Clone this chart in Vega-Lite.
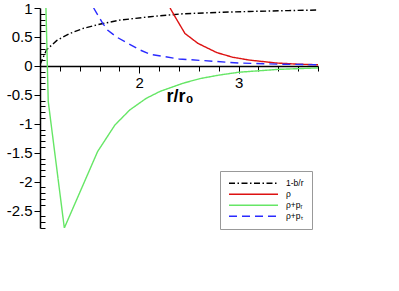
{
  "$schema": "https://vega.github.io/schema/vega-lite/v6.json",
  "width": 278,
  "height": 220,
  "autosize": "none",
  "padding": {"left": 40, "top": 8, "right": 81, "bottom": 63},
  "background": "white",
  "data": {"values": [
    {"series": "1-b/r", "r": 1.0, "v": 0.02},
    {"series": "1-b/r", "r": 1.02, "v": 0.1},
    {"series": "1-b/r", "r": 1.067, "v": 0.28},
    {"series": "1-b/r", "r": 1.17, "v": 0.44},
    {"series": "1-b/r", "r": 1.3, "v": 0.56},
    {"series": "1-b/r", "r": 1.44, "v": 0.65},
    {"series": "1-b/r", "r": 1.6, "v": 0.72},
    {"series": "1-b/r", "r": 1.8, "v": 0.79},
    {"series": "1-b/r", "r": 2.11, "v": 0.85},
    {"series": "1-b/r", "r": 2.44, "v": 0.9},
    {"series": "1-b/r", "r": 2.8, "v": 0.925},
    {"series": "1-b/r", "r": 3.11, "v": 0.94},
    {"series": "1-b/r", "r": 3.5, "v": 0.955},
    {"series": "1-b/r", "r": 3.8, "v": 0.965},
    {"series": "ρ", "r": 2.31, "v": 1.0},
    {"series": "ρ", "r": 2.36, "v": 0.85},
    {"series": "ρ", "r": 2.46, "v": 0.56},
    {"series": "ρ", "r": 2.59, "v": 0.39},
    {"series": "ρ", "r": 2.78, "v": 0.23},
    {"series": "ρ", "r": 2.94, "v": 0.15},
    {"series": "ρ", "r": 3.11, "v": 0.1},
    {"series": "ρ", "r": 3.38, "v": 0.05},
    {"series": "ρ", "r": 3.6, "v": 0.03},
    {"series": "ρ", "r": 3.8, "v": 0.02},
    {"series": "ρ+pᵣ", "r": 1.06, "v": 1.0},
    {"series": "ρ+pᵣ", "r": 1.083, "v": -0.615},
    {"series": "ρ+pᵣ", "r": 1.245, "v": -2.8},
    {"series": "ρ+pᵣ", "r": 1.58, "v": -1.48},
    {"series": "ρ+pᵣ", "r": 1.755, "v": -1.02},
    {"series": "ρ+pᵣ", "r": 1.905, "v": -0.76},
    {"series": "ρ+pᵣ", "r": 2.07, "v": -0.56},
    {"series": "ρ+pᵣ", "r": 2.21, "v": -0.44},
    {"series": "ρ+pᵣ", "r": 2.44, "v": -0.3},
    {"series": "ρ+pᵣ", "r": 2.61, "v": -0.22},
    {"series": "ρ+pᵣ", "r": 2.8, "v": -0.16},
    {"series": "ρ+pᵣ", "r": 3.0, "v": -0.11},
    {"series": "ρ+pᵣ", "r": 3.4, "v": -0.06},
    {"series": "ρ+pᵣ", "r": 3.8, "v": -0.035},
    {"series": "ρ+pₜ", "r": 1.54, "v": 1.0},
    {"series": "ρ+pₜ", "r": 1.63, "v": 0.74},
    {"series": "ρ+pₜ", "r": 1.68, "v": 0.62},
    {"series": "ρ+pₜ", "r": 1.77, "v": 0.5},
    {"series": "ρ+pₜ", "r": 2.0, "v": 0.28},
    {"series": "ρ+pₜ", "r": 2.11, "v": 0.2},
    {"series": "ρ+pₜ", "r": 2.4, "v": 0.12},
    {"series": "ρ+pₜ", "r": 3.0, "v": 0.05},
    {"series": "ρ+pₜ", "r": 3.4, "v": 0.03},
    {"series": "ρ+pₜ", "r": 3.8, "v": 0.02}
  ]},
  "mark": {"type": "line", "clip": true},
  "encoding": {
    "x": {
      "field": "r", "type": "quantitative",
      "scale": {"domain": [1, 3.8], "nice": false, "zero": false},
      "axis": {
        "orient": "bottom",
        "offset": -162,
        "values": [1.2, 1.4, 1.6, 1.8, 2, 2.2, 2.4, 2.6, 2.8, 3, 3.2, 3.4, 3.6, 3.8],
        "labelExpr": "datum.value == 2 || datum.value == 3 ? '' + datum.value : ''",
        "tickSize": {"condition": {"test": "datum.value == 2 || datum.value == 3", "value": 7}, "value": 5},
        "grid": false,
        "labelPadding": 2,
        "title": "r/r₀",
        "titleFontWeight": "bold",
        "titleFontSize": 18,
        "titleFont": "Liberation Sans",
        "titleAlign": "left",
        "titleBaseline": "alphabetic",
        "titleX": 126,
        "titleY": 35
      }
    },
    "y": {
      "field": "v", "type": "quantitative",
      "scale": {"domain": [-2.8, 1], "nice": false, "zero": false},
      "axis": {
        "values": [1, 0.9, 0.8, 0.7, 0.6, 0.5, 0.4, 0.3, 0.2, 0.1, 0, -0.1, -0.2, -0.3, -0.4, -0.5, -0.6, -0.7, -0.8, -0.9, -1, -1.1, -1.2, -1.3, -1.4, -1.5, -1.6, -1.7, -1.8, -1.9, -2, -2.1, -2.2, -2.3, -2.4, -2.5, -2.6, -2.7, -2.8],
        "labelExpr": "abs(datum.value * 2 - round(datum.value * 2)) < 0.001 ? '' + datum.value : ''",
        "tickSize": {"condition": {"test": "abs(datum.value * 2 - round(datum.value * 2)) < 0.001", "value": 6}, "value": -5},
        "grid": false,
        "labelPadding": 2,
        "title": null
      }
    },
    "color": {
      "field": "series", "type": "nominal", "title": null,
      "scale": {"domain": ["1-b/r", "ρ", "ρ+pᵣ", "ρ+pₜ"], "range": ["#000000", "#dd1111", "#66e666", "#2a2aff"]}
    },
    "strokeDash": {
      "field": "series", "type": "nominal", "title": null,
      "scale": {"domain": ["1-b/r", "ρ", "ρ+pᵣ", "ρ+pₜ"], "range": [[6, 2.5, 1.5, 2.5], [1, 0], [1, 0], [8, 5]]}
    },
    "strokeWidth": {
      "field": "series", "type": "nominal", "title": null,
      "scale": {"domain": ["1-b/r", "ρ", "ρ+pᵣ", "ρ+pₜ"], "range": [1.4, 1.4, 1, 1.4]}
    }
  },
  "config": {
    "view": {"stroke": null},
    "axis": {
      "domainColor": "black",
      "domainWidth": 1.5,
      "tickColor": "black",
      "tickWidth": 1,
      "labelFont": "Liberation Sans",
      "labelFontSize": 15,
      "labelColor": "black",
      "titleColor": "black"
    },
    "legend": {
      "orient": "none",
      "legendX": 180,
      "legendY": 163,
      "symbolType": "stroke",
      "symbolSize": 2401,
      "clipHeight": 8.5,
      "rowPadding": 2,
      "padding": 8,
      "strokeColor": "#999999",
      "fillColor": "white",
      "labelFont": "Liberation Sans",
      "labelFontSize": 8.5,
      "labelColor": "black",
      "labelOffset": 7
    }
  }
}
